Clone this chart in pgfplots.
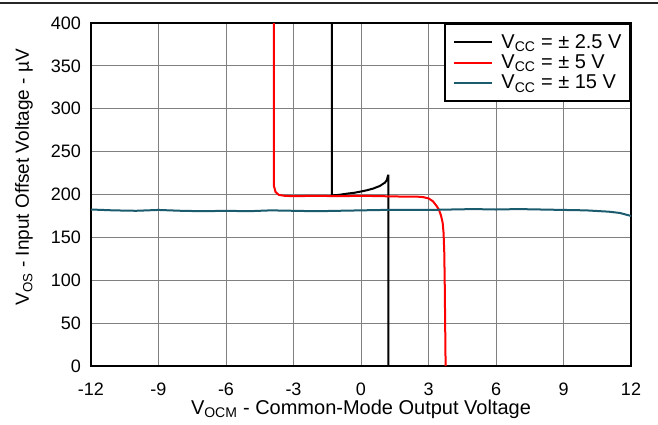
\documentclass[border=0pt]{standalone}
\usepackage{fontspec}
\setmainfont{Liberation Sans}
\usepackage{pgfplots}
\pgfplotsset{compat=1.18}
\definecolor{tealc}{HTML}{1B5B6E}
\begin{document}
\begin{tikzpicture}[x=1pt,y=1pt]
\useasboundingbox (0,0) rectangle (658,424);
\draw[line width=1.5pt, black!85] (0,421) -- (658,421);
\begin{axis}[
 at={(91pt,58pt)}, anchor=south west,
 scale only axis, width=540pt, height=343pt,
 xmin=-12,xmax=12,ymin=0,ymax=400,
 xtick={-12,-9,...,12}, ytick={0,50,...,400},
 grid=major, grid style={black!50, line width=0.8pt},
 axis line style={line width=2pt},
 major tick length=0pt,
 tick label style={font=\fontsize{18}{21}\selectfont},
 xticklabel style={inner sep=0pt, anchor=north, yshift=-17pt},
 yticklabel style={inner sep=0pt, anchor=east, xshift=-10pt},
 /pgf/number format/assume math mode=true,
 xlabel={V\textsubscript{OCM} - Common-Mode Output Voltage},
 ylabel={V\textsubscript{OS} - Input Offset Voltage - µV},
 xlabel style={font=\fontsize{20}{23}\selectfont, at={(axis description cs:0.5,0)}, anchor=center, yshift=-43pt},
 ylabel style={font=\fontsize{19}{22}\selectfont, at={(axis description cs:-0.124,0.55)}, anchor=center},
 legend style={at={(1,1)}, anchor=north east, line width=2pt, draw=black,
   font=\fontsize{20}{23}\selectfont, inner xsep=8pt, inner ysep=10pt,
   nodes={inner sep=0.5pt}, column sep=8pt, row sep=4pt},
 legend cell align=left,
 legend image code/.code={\draw[#1] (0pt,0pt) -- (38pt,0pt);},
]
\addplot[black, line width=2pt] coordinates {
(-1.29,400) (-1.29,199) (-1.0,199.5) (-0.62,201) (-0.3,202) (0,203.5) (0.27,205) (0.55,207) (0.84,210) (1.07,214) (1.15,217) (1.2,222) (1.22,222) (1.22,0)};
\addplot[red, line width=2pt] coordinates {
(-3.87,400) (-3.87,210) (-3.8,203) (-3.65,199.5) (-3.4,198.5) (-3,198) (-2,198.5) (-1,198) (0,198.5) (1,198) (2,197.5) (2.5,197.5) (2.75,197) (3.0,195.5) (3.2,192) (3.35,187) (3.47,182) (3.56,175) (3.63,167) (3.67,155) (3.70,133) (3.72,100) (3.74,50) (3.76,0)};
\addplot[tealc, line width=2pt] coordinates {
(-12,182.5) (-11,181.5) (-10,181) (-9,182) (-8,181) (-7,180.5) (-6,181) (-5,180.5) (-4,181.5) (-3,181) (-2,180.5) (-1,181) (0,181.5) (1,182) (2,182) (3,182) (4,182.5) (5,183) (6,182.5) (7,183) (8,182.5) (9,182) (10,181.5) (11,180) (11.5,178.5) (12,175)};
\legend{V\textsubscript{CC} = ± 2.5 V, V\textsubscript{CC} = ± 5 V, V\textsubscript{CC} = ± 15 V}
\end{axis}
\end{tikzpicture}
\end{document}
